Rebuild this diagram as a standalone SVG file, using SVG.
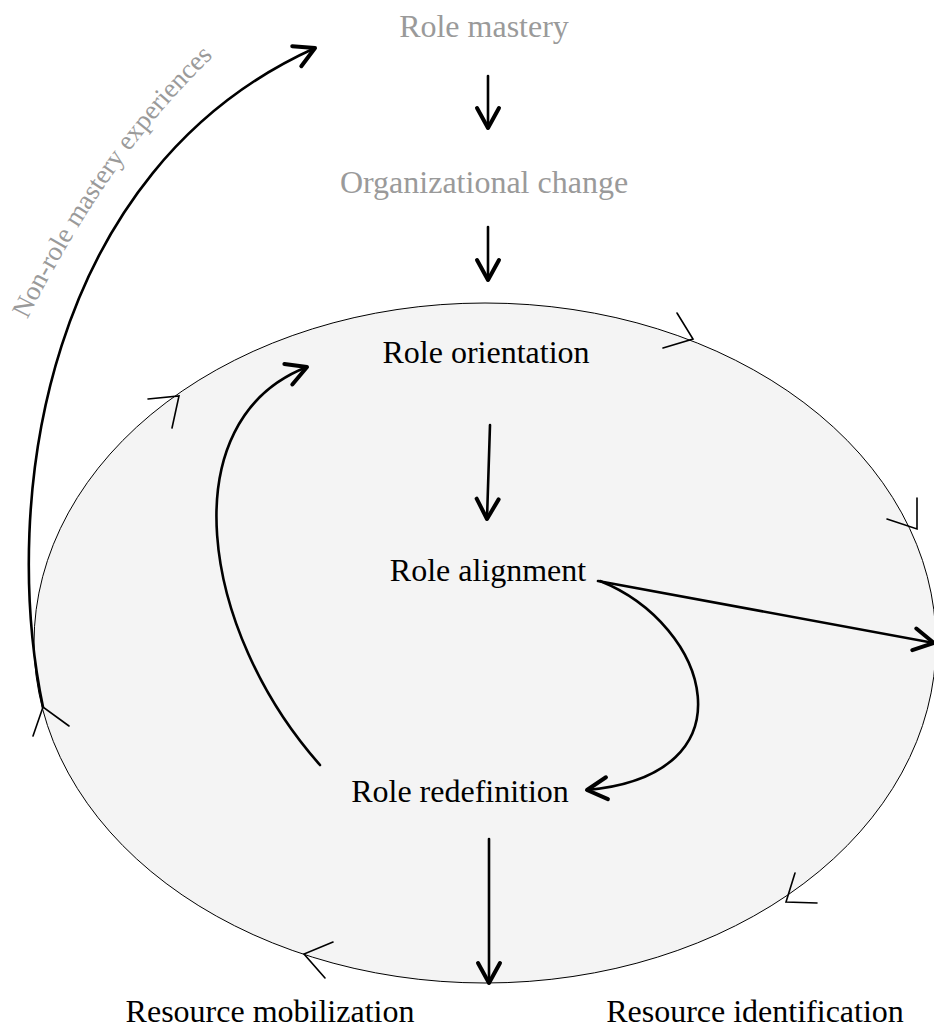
<svg xmlns="http://www.w3.org/2000/svg" width="934" height="1028" viewBox="0 0 934 1028">
<defs>
<style>
.lbl{font-family:"Liberation Serif","Times New Roman",serif;font-size:32px;text-anchor:middle;fill:#000}
.gray{fill:#9a9a9a}
.conn{fill:none;stroke:#000;stroke-width:2.6;stroke-linecap:round}
.tick{fill:none;stroke:#000;stroke-width:1.6;stroke-linecap:round;stroke-linejoin:miter}
.cyc{fill:#f4f4f4;stroke:#000;stroke-width:1}
</style>
<marker id="ah" markerUnits="userSpaceOnUse" orient="auto" refX="0" refY="0" markerWidth="30" markerHeight="30" overflow="visible">
<path d="M-20,-11 L0,0 L-20,11" fill="none" stroke="#000" stroke-width="4" stroke-linecap="round" stroke-linejoin="round"/>
</marker>
<path id="nrPath" d="M28,318 Q112,152 212,58"/>
</defs>

<g id="cycle">
<ellipse class="cyc" cx="485" cy="643" rx="451" ry="340"/>
<polyline class="tick" points="677,313 693,339 663,348"/>
<polyline class="tick" points="917,498 917,529 887,519"/>
<polyline class="tick" points="795,873 786,902 817,903"/>
<polyline class="tick" points="333,942 304,954 325,978"/>
<polyline class="tick" points="33,736 43,707 69,726"/>
<polyline class="tick" points="148,399 179,396 172,428"/>
</g>

<g id="connectors">
<path class="conn" marker-end="url(#ah)" d="M488,76 L488,128"/>
<path class="conn" marker-end="url(#ah)" d="M488,227 L488,280"/>
<path class="conn" marker-end="url(#ah)" d="M490,425 L487,519"/>
<path class="conn" marker-end="url(#ah)" d="M598,581 L934,643"/>
<path class="conn" marker-end="url(#ah)" d="M600,581 C710,625 755,775 587,790"/>
<path class="conn" marker-end="url(#ah)" d="M320,765 C200,630 170,420 307,367"/>
<path class="conn" marker-end="url(#ah)" d="M489,839 L489,983"/>
<path id="nonrole-arrow" class="conn" marker-end="url(#ah)" d="M43,707 C0,500 45,170 315,48"/>
<text class="lbl gray" style="font-size:27px"><textPath href="#nrPath" startOffset="50%">Non-role mastery experiences</textPath></text>
</g>

<g id="node-role-mastery"><text class="lbl gray" x="484" y="37">Role mastery</text></g>
<g id="node-organizational-change"><text class="lbl gray" x="484" y="193">Organizational change</text></g>
<g id="node-role-orientation"><text class="lbl" x="486" y="363">Role orientation</text></g>
<g id="node-role-alignment"><text class="lbl" x="488" y="581">Role alignment</text></g>
<g id="node-role-redefinition"><text class="lbl" x="460" y="802">Role redefinition</text></g>
<g id="node-resource-mobilization"><text class="lbl" x="270" y="1022">Resource mobilization</text></g>
<g id="node-resource-identification"><text class="lbl" x="755" y="1022">Resource identification</text></g>
</svg>
